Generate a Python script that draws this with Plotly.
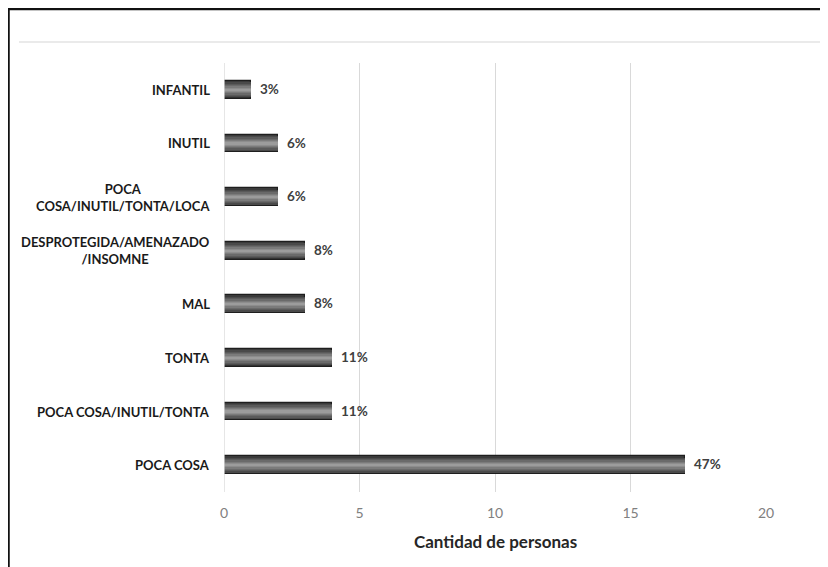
import plotly.graph_objects as go

categories = [
    "INFANTIL",
    "INUTIL",
    "POCA<br>COSA/INUTIL/TONTA/LOCA",
    "DESPROTEGIDA/AMENAZADO<br>/INSOMNE",
    "MAL",
    "TONTA",
    "POCA COSA/INUTIL/TONTA",
    "POCA COSA",
]
values = [1, 2, 2, 3, 3, 4, 4, 17]
percent_labels = ["3%", "6%", "6%", "8%", "8%", "11%", "11%", "47%"]
x_ticks = [0, 5, 10, 15, 20]
x_title = "Cantidad de personas"

FONT = "Lato"

# page body has an 8px margin; work in figure coordinates offset by it
OFF = 8
W, H = 828 - OFF, 567 - OFF
L, R, T, B = 224 - OFF, 766 - OFF, 63 - OFF, 492 - OFF
PW, PH = R - L, B - T


def px(xv):
    return (xv - L) / PW


def py(yv):
    return 1 - (yv - T) / PH


fig = go.Figure()
bevel = [
    (0.33, "#3a3a3a", dict(color="#1e1e1e", width=1.2)),
    (0.28, "#4a4a4a", dict(width=0)),
    (0.23, "#5a5a5a", dict(width=0)),
    (0.18, "#6a6a6a", dict(width=0)),
    (0.13, "#7b7b7b", dict(width=0)),
    (0.08, "#8d8d8d", dict(width=0)),
    (0.04, "#9c9c9c", dict(width=0)),
]
for i, (w, col, ln) in enumerate(bevel):
    kw = {}
    if i == 0:
        kw = dict(
            text=["\u00a0\u00a0" + t for t in percent_labels], textposition="outside",
            textfont=dict(family=FONT, size=13.5, color="#404040", weight="bold"),
            cliponaxis=False,
        )
    fig.add_trace(go.Bar(
        y=categories, x=values, orientation="h", width=w,
        marker=dict(color=col, line=ln),
        hoverinfo="skip", showlegend=False, **kw,
    ))

for c in categories:
    fig.add_annotation(
        x=0, xref="paper", y=c, yref="y", text=c, showarrow=False,
        xanchor="right", yanchor="middle", align="center", xshift=-12,
        font=dict(family=FONT, size=13, color="#1a1a1a", weight="bold"),
    )

fig.add_annotation(
    x=0.5, xref="paper", y=py(541 - OFF), yref="paper", text=x_title, showarrow=False,
    xanchor="center", yanchor="middle",
    font=dict(family=FONT, size=17, color="#262626", weight="bold"),
)

fig.update_layout(
    width=W, height=H,
    margin=dict(l=L, r=W - R, t=T, b=H - B),
    paper_bgcolor="white", plot_bgcolor="white",
    barmode="overlay", bargap=0,
    xaxis=dict(
        range=[0, 20], tickvals=x_ticks, showgrid=True, gridcolor="#d9d9d9", gridwidth=1.3,
        zeroline=False, showline=False, ticks="", ticklabelstandoff=11,
        tickfont=dict(family=FONT, size=14, color="#808080"),
    ),
    yaxis=dict(
        autorange="reversed", showticklabels=False, showgrid=False,
        zeroline=False, showline=False, ticks="",
    ),
    shapes=[
        dict(type="line", xref="paper", yref="paper",
             x0=px(0), x1=px(W), y0=py(1), y1=py(1),
             line=dict(color="#111111", width=2.5)),
        dict(type="line", xref="paper", yref="paper",
             x0=px(0.5), x1=px(0.5), y0=py(0), y1=py(H),
             line=dict(color="#111111", width=2.5)),
        dict(type="line", xref="paper", yref="paper",
             x0=px(19 - OFF), x1=px(W), y0=py(42 - OFF), y1=py(42 - OFF),
             line=dict(color="#e3e3e3", width=1.5)),
        dict(type="line", xref="x", yref="paper", x0=0, x1=0, y0=0, y1=1,
             line=dict(color="#d9d9d9", width=1.3)),
    ],
)

fig.write_html("out.html")
